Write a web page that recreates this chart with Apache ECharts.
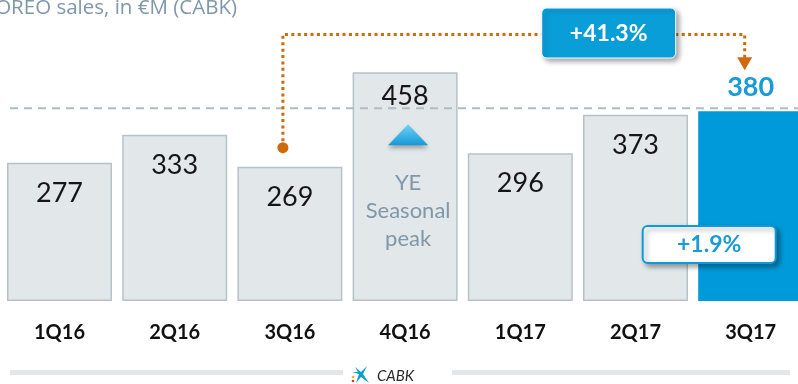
<!DOCTYPE html>
<html>
<head>
<meta charset="utf-8">
<script src="https://cdn.jsdelivr.net/npm/echarts@6/dist/echarts.min.js"></script>
<style>
  html, body { margin: 0; padding: 0; background: #ffffff; }
  #chart { width: 798px; height: 384px; }
</style>
</head>
<body>
<div id="chart"></div>
<script>
// Quarterly OREO sales, €M
const quarters = ['1Q16', '2Q16', '3Q16', '4Q16', '1Q17', '2Q17', '3Q17'];
const oreoSales = [277, 333, 269, 458, 296, 373, 380];
const referenceLevel = 386;           // dashed guide just above the latest quarter
const yoyChange = '+41.3%';           // 3Q16 -> 3Q17
const qoqChange = '+1.9%';            // 2Q17 -> 3Q17
const peakNote = ['YE', 'Seasonal', 'peak'];
const titleText = 'OREO sales, in €M (CABK)';
const footerText = 'CABK';

const FONT = 'Lato, "Noto Sans", sans-serif';
const BLUE = '#0a9bd8';
const ORANGE = '#d0690c';
const GREY_TEXT = '#7f97aa';

const lastIdx = oreoSales.length - 1;
const peakIdx = 3;

const barData = oreoSales.map((v, i) => {
  const item = { value: v };
  if (i === lastIdx) {
    item.itemStyle = { color: '#0099d9', borderWidth: 0 };
    item.label = {
      position: 'top', distance: 10, color: '#1a9ad6',
      fontWeight: 'bold', fontSize: 27
    };
  } else if (i === peakIdx) {
    item.label = { distance: 11 };
  }
  return item;
});

const chart = echarts.init(document.getElementById('chart'), null, { renderer: 'canvas' });

chart.setOption({
  animation: false,
  backgroundColor: '#ffffff',
  grid: {
    left: 1.9, top: 51.3, width: 806.4, height: 249.7,
    containLabel: false, outerBoundsMode: 'none'
  },
  xAxis: {
    type: 'category',
    data: quarters,
    axisLine: { show: false },
    axisTick: { show: false },
    splitLine: { show: false },
    axisLabel: {
      margin: 22, fontSize: 20, fontWeight: 'bold',
      color: '#111111', fontFamily: FONT
    }
  },
  yAxis: {
    type: 'value', min: 0, max: 500, show: false,
    splitLine: { show: false }
  },
  series: [{
    type: 'bar',
    data: barData,
    barWidth: 105,
    itemStyle: { color: '#e2e7ea', borderColor: '#b6c2ca', borderWidth: 1.5 },
    label: {
      show: true, position: 'insideTop', distance: 17,
      fontSize: 27, color: '#151515', fontFamily: FONT
    }
  }]
});

// Annotations anchored to the chart's own scales
const px = (i, v) => chart.convertToPixel({ xAxisIndex: 0, yAxisIndex: 0 }, [i, v]);

const from = px(2, oreoSales[2]);            // 3Q16 bar top
const to = px(lastIdx, oreoSales[lastIdx]);  // 3Q17 bar top
const base = px(lastIdx, 0);
const peak = px(peakIdx, oreoSales[peakIdx]);
const refY = px(0, referenceLevel)[1];

const startX = from[0] - 7, startY = from[1] - 19;
const endX = to[0] - 6;
const railY = 34.5;
const arrowTipY = to[1] - 41;

const shadow = { shadowBlur: 5, shadowOffsetX: 3, shadowOffsetY: 3, shadowColor: 'rgba(0,0,0,0.35)' };

// CaixaBank star mark, small
const starX = 352, starY = 366;

chart.setOption({
  graphic: [
    // title (runs off the left edge)
    { type: 'text', x: 237, y: 8.5, style: {
        text: titleText, fill: GREY_TEXT, font: '20.5px "Open Sans", ' + FONT,
        align: 'right', verticalAlign: 'middle' } },

    // dashed reference level
    { type: 'line', z: 10, shape: { x1: 10, y1: refY, x2: 798, y2: refY },
      style: { stroke: '#b0bcc4', lineWidth: 2, lineDash: [8, 6] } },

    // dotted connector 3Q16 -> 3Q17
    { type: 'polyline', z: 20, shape: { points: [
        [startX, startY], [startX, railY], [endX, railY], [endX, arrowTipY - 12]
      ] },
      style: { stroke: ORANGE, lineWidth: 3, lineDash: [3, 3.4], fill: null } },
    { type: 'circle', z: 21, shape: { cx: startX, cy: startY, r: 5.5 }, style: { fill: ORANGE } },
    { type: 'polygon', z: 21, shape: { points: [
        [endX - 7.5, arrowTipY - 13], [endX + 7.5, arrowTipY - 13], [endX, arrowTipY]
      ] }, style: { fill: ORANGE } },

    // +41.3% callout
    { type: 'rect', z: 30, shape: { x: endX - 203, y: 8, width: 134, height: 50, r: 5 },
      style: Object.assign({ fill: '#0a9ed9', stroke: '#ffffff', lineWidth: 1 }, shadow) },
    { type: 'text', z: 31, x: endX - 136, y: 33.5, style: {
        text: yoyChange, fill: '#ffffff', font: 'bold 23px ' + FONT,
        align: 'center', verticalAlign: 'middle' } },

    // +1.9% callout
    { type: 'rect', z: 30, shape: { x: to[0] - 108, y: base[1] - 75, width: 133, height: 37, r: 5 },
      style: Object.assign({ fill: '#ffffff', stroke: BLUE, lineWidth: 2 }, shadow) },
    { type: 'text', z: 31, x: to[0] - 41.5, y: base[1] - 56.5, style: {
        text: qoqChange, fill: '#1a9ad6', font: 'bold 23px ' + FONT,
        align: 'center', verticalAlign: 'middle' } },

    // seasonal peak marker
    { type: 'polygon', z: 20, shape: { points: [
        [peak[0] - 17, peak[1] + 73], [peak[0] + 23, peak[1] + 73], [peak[0] + 3, peak[1] + 52]
      ] },
      style: {
        fill: new echarts.graphic.LinearGradient(0, 0, 0, 1, [
          { offset: 0, color: '#6fd2f7' }, { offset: 1, color: '#1797d6' }
        ]),
        shadowBlur: 4, shadowOffsetY: 3, shadowColor: 'rgba(0,0,0,0.3)'
      } },
    { type: 'text', z: 20, x: peak[0] + 3, y: peak[1] + 139, style: {
        text: peakNote.join('\n'), fill: GREY_TEXT, font: '22px ' + FONT,
        lineHeight: 28, align: 'center', verticalAlign: 'middle' } },

    // footer rule with brand
    { type: 'rect', shape: { x: 10, y: 370, width: 333, height: 5 }, style: { fill: '#e4e7ea' } },
    { type: 'rect', shape: { x: 452, y: 370, width: 338, height: 5 }, style: { fill: '#e4e7ea' } },
    { type: 'polygon', shape: { points: [
        [starX + 3, starY + 1], [starX + 9, starY + 6], [starX + 15, starY + 0], [starX + 11, starY + 8],
        [starX + 17, starY + 17], [starX + 9, starY + 11], [starX + 4, starY + 17], [starX + 7, starY + 8],
        [starX + 0, starY + 6], [starX + 6, starY + 6]
      ] }, style: { fill: '#0a9ed9' } },
    { type: 'circle', shape: { cx: starX + 1, cy: starY + 11, r: 1.3 }, style: { fill: '#f2b21b' } },
    { type: 'circle', shape: { cx: starX + 1, cy: starY + 15, r: 1.3 }, style: { fill: '#e3342f' } },
    { type: 'text', x: 377, y: 376, style: {
        text: footerText, fill: '#2b2b2b', font: 'italic 15px ' + FONT,
        align: 'left', verticalAlign: 'middle' } }
  ]
});
</script>
</body>
</html>
